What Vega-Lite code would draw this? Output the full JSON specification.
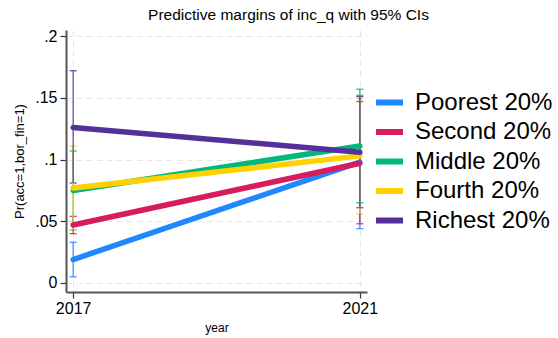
{
  "$schema": "https://vega.github.io/schema/vega-lite/v6.json",
  "autosize": "none",
  "width": 301,
  "height": 262,
  "padding": {"left": 66, "top": 30, "right": 191, "bottom": 46},
  "background": "white",
  "title": {"text": "Predictive margins of inc_q with 95% CIs", "font": "Liberation Sans", "fontSize": 15.5, "fontWeight": "normal", "anchor": "middle", "dx": 72, "offset": 5, "color": "black"},
  "config": {"view": {"stroke": null}, "font": "Liberation Sans",
    "legend": {"title": null, "orient": "none", "legendX": 307, "legendY": 56, "symbolType": "stroke", "symbolStrokeWidth": 6, "symbolSize": 729, "symbolOpacity": 1, "labelFontSize": 24, "labelColor": "black", "labelOffset": 9, "rowPadding": 0.5, "labelFont": "Liberation Sans"}},
  "data": {"values": [
    {"year": 2017, "group": "Poorest 20%", "margin": 0.019, "lo": 0.005, "hi": 0.033},
    {"year": 2021, "group": "Poorest 20%", "margin": 0.098, "lo": 0.044, "hi": 0.152},
    {"year": 2017, "group": "Second 20%", "margin": 0.047, "lo": 0.040, "hi": 0.054},
    {"year": 2021, "group": "Second 20%", "margin": 0.097, "lo": 0.048, "hi": 0.147},
    {"year": 2017, "group": "Middle 20%", "margin": 0.075, "lo": 0.043, "hi": 0.107},
    {"year": 2021, "group": "Middle 20%", "margin": 0.111, "lo": 0.065, "hi": 0.157},
    {"year": 2017, "group": "Fourth 20%", "margin": 0.077, "lo": 0.043, "hi": 0.111},
    {"year": 2021, "group": "Fourth 20%", "margin": 0.103, "lo": 0.056, "hi": 0.149},
    {"year": 2017, "group": "Richest 20%", "margin": 0.126, "lo": 0.081, "hi": 0.172},
    {"year": 2021, "group": "Richest 20%", "margin": 0.106, "lo": 0.061, "hi": 0.151}
  ]},
  "encoding": {
    "x": {"field": "year", "type": "quantitative",
      "scale": {"domain": [2016.9, 2021.1], "nice": false, "zero": false},
      "axis": {"values": [2017, 2021], "format": "d", "title": "year", "labelFontSize": 16, "labelColor": "black", "titleFontSize": 12, "titleFontWeight": "normal", "titleColor": "black", "titlePadding": 6, "domainColor": "#555555", "domainWidth": 2, "tickColor": "#333333", "tickSize": 6, "tickWidth": 1.2, "labelPadding": 2, "grid": true, "gridDash": [6, 4], "gridColor": "#e6e6e6", "gridWidth": 1}
    },
    "color": {"field": "group", "type": "nominal",
      "scale": {"domain": ["Poorest 20%", "Second 20%", "Middle 20%", "Fourth 20%", "Richest 20%"], "range": ["#1f88ff", "#d81b5e", "#00b87a", "#ffd100", "#55309a"]}}
  },
  "layer": [
    {
      "mark": {"type": "errorbar", "ticks": {"size": 7, "thickness": 1.3}, "rule": {"strokeWidth": 1.3}, "opacity": 0.85},
      "encoding": {
        "y": {"field": "lo", "type": "quantitative",
          "scale": {"domain": [-0.0073, 0.205], "nice": false, "zero": false},
          "axis": {"values": [0, 0.05, 0.1, 0.15, 0.2], "labelExpr": "replace(format(datum.value, '~g'), '0.', '.')", "labelAngle": 0, "labelFontSize": 16, "labelColor": "black", "labelPadding": 3, "title": "Pr(acc=1,bor_fin=1)", "titleFontSize": 13, "titleFontWeight": "normal", "titleColor": "black", "titlePadding": 8, "domainColor": "#555555", "domainWidth": 2, "tickColor": "#333333", "tickSize": 6, "tickWidth": 1.2, "grid": true, "gridDash": [6, 4], "gridColor": "#e6e6e6", "gridWidth": 1}
        },
        "y2": {"field": "hi"}
      }
    },
    {
      "mark": {"type": "line", "strokeWidth": 5.5, "strokeCap": "round"},
      "encoding": {
        "y": {"field": "margin", "type": "quantitative"}
      }
    }
  ]
}
